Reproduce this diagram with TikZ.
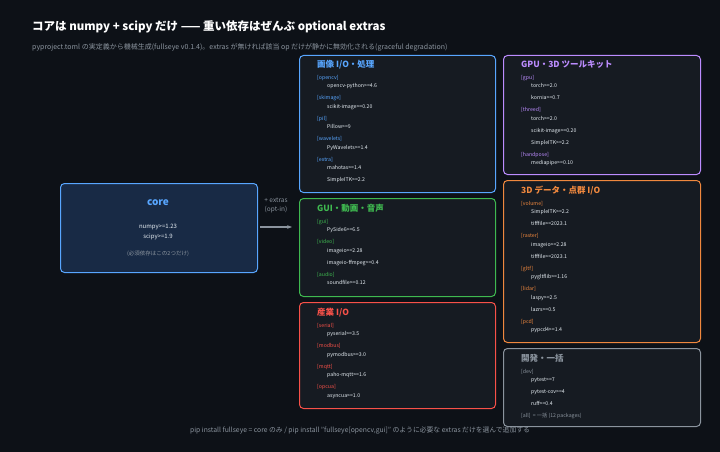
\documentclass[tikz,border=0pt]{standalone}
\usepackage{fontspec}
\setmainfont{Noto Sans CJK JP}
\newfontfamily\pkgfont{Noto Sans CJK JP}
\usetikzlibrary{arrows.meta, positioning}
\definecolor{bgdark}{HTML}{0D1117}
\definecolor{panel}{HTML}{161B22}
\definecolor{corefill}{HTML}{182A45}
\definecolor{imgblue}{HTML}{58A6FF}
\definecolor{guigreen}{HTML}{3FB950}
\definecolor{indred}{HTML}{F85149}
\definecolor{gpupurple}{HTML}{BC8CFF}
\definecolor{dorange}{HTML}{F0883E}
\definecolor{devgray}{HTML}{8B949E}
\definecolor{pkgwhite}{HTML}{E6EDF3}
\newcommand{\extra}[2]{{\color{#1}[#2]}\\}
\newcommand{\pkg}[1]{\hspace*{10pt}{\color{pkgwhite}#1}\\[3.5pt]}

\begin{document}
\begin{tikzpicture}[
    x=1pt, y=-1pt,
    group/.style={rectangle, draw, line width=1pt, rounded corners=4pt, fill=panel, anchor=north west, inner sep=0pt},
    head/.style={anchor=north west, font=\fontsize{8.5}{10}\selectfont\bfseries, inner sep=0pt},
    list/.style={anchor=north west, align=left, inner sep=0pt, font=\fontsize{5.2}{8.5}\selectfont\pkgfont},
    arrow/.style={-{Stealth[length=5pt]}, line width=1.2pt, devgray}
]
    \fill[bgdark] (0,0) rectangle (720,452);
    \useasboundingbox (0,0) rectangle (720,452);

    % Title
    \node[anchor=west, white, font=\fontsize{11.5}{13}\selectfont\bfseries, inner sep=0pt] (title) at (32,27)
        {コアは numpy + scipy だけ —— 重い依存はぜんぶ optional extras};
    \node[anchor=west, devgray, font=\fontsize{7}{8}\selectfont, inner sep=0pt] (subtitle) at (32,47)
        {pyproject.toml の実定義から機械生成(fullseye v0.1.4)。extras が無ければ該当 op だけが静かに無効化される(graceful degradation)};

    % Core
    \node[group, draw=imgblue, fill=corefill, minimum width=197pt, minimum height=89pt] (core) at (60,183) {};
    \node[imgblue, font=\fontsize{10}{12}\selectfont\bfseries] (corehead) at (158,203) {core};
    \node[align=center, pkgwhite, font=\fontsize{6}{10}\selectfont] (corepkgs) at (158,232) {numpy>=1.23\\scipy>=1.9};
    \node[devgray, font=\fontsize{5.5}{7}\selectfont] (corenote) at (158,254) {(必須依存はこの2つだけ)};

    % Opt-in arrow
    \coordinate (coreout) at (260,227);
    \coordinate (optin) at (292,227);
    \draw[arrow] (coreout) -- (optin);
    \node[devgray, align=center, font=\fontsize{6.5}{9}\selectfont] (optlabel) at (276,205) {+ extras\\(opt-in)};

    % Image I/O
    \node[group, draw=imgblue, minimum width=196pt, minimum height=137pt] (img) at (299,55) {};
    \node[head, imgblue] (imghead) at (317,60) {画像 I/O・処理};
    \node[list] (imglist) at (317,75) {\extra{imgblue}{opencv}\pkg{opencv-python>=4.6}\extra{imgblue}{skimage}\pkg{scikit-image>=0.20}\extra{imgblue}{pil}\pkg{Pillow>=9}\extra{imgblue}{wavelets}\pkg{PyWavelets>=1.4}\extra{imgblue}{extra}\pkg{mahotas>=1.4}\pkg{SimpleITK>=2.2}};

    % GUI
    \node[group, draw=guigreen, minimum width=196pt, minimum height=98pt] (gui) at (299,198) {};
    \node[head, guigreen] (guihead) at (317,204) {GUI・動画・音声};
    \node[list] (guilist) at (317,219) {\extra{guigreen}{gui}\pkg{PySide6>=6.5}\extra{guigreen}{video}\pkg{imageio>=2.28}\pkg{imageio-ffmpeg>=0.4}\extra{guigreen}{audio}\pkg{soundfile>=0.12}};

    % Industrial
    \node[group, draw=indred, minimum width=196pt, minimum height=106pt] (ind) at (299,302) {};
    \node[head, indred] (indhead) at (317,308) {産業 I/O};
    \node[list] (indlist) at (317,323) {\extra{indred}{serial}\pkg{pyserial>=3.5}\extra{indred}{modbus}\pkg{pymodbus>=3.0}\extra{indred}{mqtt}\pkg{paho-mqtt>=1.6}\extra{indred}{opcua}\pkg{asyncua>=1.0}};

    % GPU
    \node[group, draw=gpupurple, minimum width=197pt, minimum height=119pt] (gpu) at (503,55) {};
    \node[head, gpupurple] (gpuhead) at (521,60) {GPU・3D ツールキット};
    \node[list] (gpulist) at (521,75) {\extra{gpupurple}{gpu}\pkg{torch>=2.0}\pkg{kornia>=0.7}\extra{gpupurple}{threed}\pkg{torch>=2.0}\pkg{scikit-image>=0.20}\pkg{SimpleITK>=2.2}\extra{gpupurple}{handpose}\pkg{mediapipe>=0.10}};

    % 3D data
    \node[group, draw=dorange, minimum width=197pt, minimum height=162pt] (vol) at (503,180) {};
    \node[head, dorange] (volhead) at (521,186) {3D データ・点群 I/O};
    \node[list] (vollist) at (521,201) {\extra{dorange}{volume}\pkg{SimpleITK>=2.2}\pkg{tifffile>=2023.1}\extra{dorange}{raster}\pkg{imageio>=2.28}\pkg{tifffile>=2023.1}\extra{dorange}{gltf}\pkg{pygltflib>=1.16}\extra{dorange}{lidar}\pkg{laspy>=2.5}\pkg{lazrs>=0.5}\extra{dorange}{pcd}\pkg{pypcd4>=1.4}};

    % Dev
    \node[group, draw=devgray, minimum width=197pt, minimum height=78pt] (dev) at (503,348) {};
    \node[head, devgray] (devhead) at (521,354) {開発・一括};
    \node[list] (devlist) at (521,369) {\extra{devgray}{dev}\pkg{pytest>=7}\pkg{pytest-cov>=4}\pkg{ruff>=0.4}{\color{devgray}[all]\ \ = 一括 (12 packages)}};

    % Footer
    \node[devgray, font=\fontsize{6.8}{8}\selectfont, inner sep=0pt] (footer) at (360,430)
        {pip install fullseye = core のみ / pip install "fullseye[opencv,gui]" のように必要な extras だけを選んで追加する};
\end{tikzpicture}
\end{document}
